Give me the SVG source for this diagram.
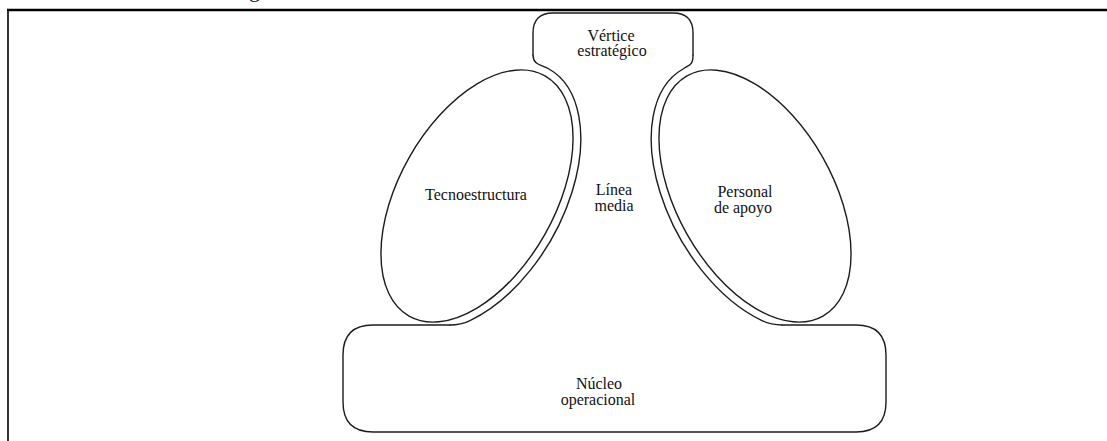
<svg xmlns="http://www.w3.org/2000/svg" width="1107" height="441" viewBox="0 0 1107 441">
  <style>
    .ln { fill: none; stroke: #1c1c1c; stroke-width: 1.4; stroke-linejoin: round; stroke-linecap: round; }
    .lbl { font-family: "Liberation Serif", "Times New Roman", serif; font-size: 16px; fill: #111; text-anchor: middle; }
    .frame { stroke: #000; fill: none; }
  </style>
  <rect width="1107" height="441" fill="#fff"/>

  <!-- page frame and the tail of the caption line above it -->
  <text x="249" y="-3" font-family="Liberation Serif, serif" font-size="22" fill="#111">g</text>
  <line class="frame" x1="7" y1="10" x2="1107" y2="10" stroke-width="2.4"/>
  <line class="frame" x1="8" y1="10" x2="8" y2="441" stroke-width="1.6"/>

  <!-- Strategic apex: top of the common outline -->
  <g id="vertice-estrategico">
    <path class="ln" d="M533,55 L533,33 Q533,13 553,13 L673,13 Q693,13 693,33 L693,55"/>
    <text class="lbl" x="611" y="41">Vértice</text>
    <text class="lbl" x="612" y="56">estratégico</text>
  </g>

  <!-- Technostructure -->
  <g id="tecnoestructura">
    <ellipse class="ln" cx="477" cy="196" rx="138" ry="78" transform="rotate(-60.5 477 196)"/>
    <text class="lbl" x="476" y="200">Tecnoestructura</text>
  </g>

  <!-- Support staff -->
  <g id="personal-de-apoyo">
    <ellipse class="ln" cx="755" cy="196" rx="138" ry="78" transform="rotate(60.5 755 196)"/>
    <text class="lbl" x="745" y="197">Personal</text>
    <text class="lbl" x="743" y="213">de apoyo</text>
  </g>

  <!-- Middle line: the neck running from the apex down to the operating core -->
  <g id="linea-media">
    <path class="ln" d="M533,55 C533,65 541,64.5 549,69 A146,86 -60.5 0 1 470,320.6 Q460.8,325 450,325"/>
    <path class="ln" d="M693,55 C693,65 690,64.5 683,69 A146,86 60.5 0 0 762,320.6 Q771.2,325 782,325"/>
    <text class="lbl" x="614" y="195">Línea</text>
    <text class="lbl" x="614" y="211">media</text>
  </g>

  <!-- Operating core -->
  <g id="nucleo-operacional">
    <path class="ln" d="M450,325 L373,325 Q343,325 343,355 L343,402 Q343,432 373,432 L856,432 Q886,432 886,402 L886,355 Q886,325 856,325 L782,325"/>
    <text class="lbl" x="599" y="389">Núcleo</text>
    <text class="lbl" x="598" y="405">operacional</text>
  </g>

  <g id="connectors"/>
</svg>
